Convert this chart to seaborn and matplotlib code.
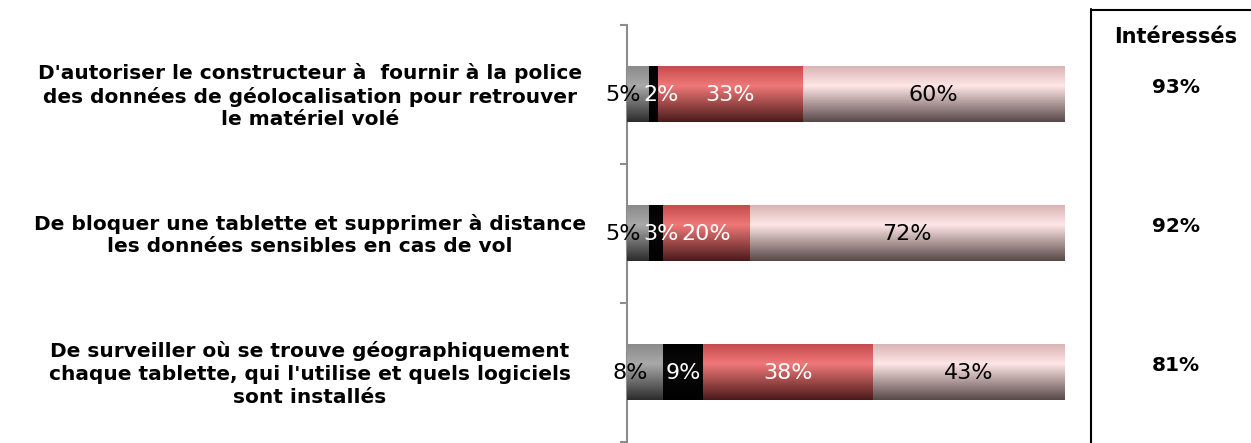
import numpy as np
import pandas as pd
import matplotlib
matplotlib.use("Agg")
import matplotlib.pyplot as plt
import matplotlib.transforms as mtransforms
from matplotlib.colors import LinearSegmentedColormap
import seaborn as sns

# -------- DATA --------
categories = [
    "D'autoriser le constructeur à  fournir à la police\ndes données de géolocalisation pour retrouver\nle matériel volé",
    "De bloquer une tablette et supprimer à distance\nles données sensibles en cas de vol",
    "De surveiller où se trouve géographiquement\nchaque tablette, qui l'utilise et quels logiciels\nsont installés",
]
seg_gray = [5, 5, 8]
seg_black = [2, 3, 9]
seg_red = [33, 20, 38]
seg_pink = [60, 72, 43]
interesses = ["93%", "92%", "81%"]

# -------- STYLE --------
# gradient stops per segment: top, light band, bottom
gradients = {
    "gray": ["#8a8a8a", "#a9a9a9", "#2c2c2c"],
    "black": ["#000000", "#0a0a0a", "#000000"],
    "red": ["#c44c4c", "#f07878", "#4a1a1a"],
    "pink": ["#dab4b4", "#ffe6e6", "#584848"],
}
label_colors = {"gray": "black", "black": "white", "red": "white", "pink": "black"}

sns.set_style("white")
plt.rcParams["font.family"] = ["DejaVu Sans"]
plt.rcParams["text.color"] = "black"

df = pd.DataFrame({"cat": categories, "gray": seg_gray, "black": seg_black,
                   "red": seg_red, "pink": seg_pink})
order = ["gray", "black", "red", "pink"]
tot = df[order].sum(axis=1)
# 100% stacked: normalize each row
norm = df[order].div(tot, axis=0) * 100
cum = norm.cumsum(axis=1)

fig = plt.figure(figsize=(12.51, 4.43), dpi=100)
ax = fig.add_axes([627 / 1251, 1 / 443, 438 / 1251, 417 / 443])

# draw stacked bars from the longest to the shortest
layer_patches = {}
for z, key in enumerate(reversed(order)):
    sns.barplot(x=cum[key].values, y=df["cat"], orient="h", width=0.4,
                color="white", ax=ax, zorder=z + 1)
    layer_patches[key] = list(ax.containers[-1])

for z, key in enumerate(reversed(order)):
    cmap = LinearSegmentedColormap.from_list(key, list(zip([0, 0.35, 1.0], gradients[key])))
    grad = np.linspace(0, 1, 128).reshape(-1, 1)
    for p in layer_patches[key]:
        p.set_facecolor("none")
        p.set_edgecolor("none")
        x0, y0, w, h = p.get_x(), p.get_y(), p.get_width(), p.get_height()
        ax.imshow(grad, cmap=cmap, aspect="auto", origin="upper",
                  extent=(x0, x0 + w, y0 + h, y0), zorder=z + 1,
                  interpolation="bilinear")

ax.set_xlim(0, 100)
ax.set_ylim(2.5, -0.5)

# value labels
for i in range(len(df)):
    start = 0
    for key in order:
        w = norm.loc[i, key]
        xc = start + w / 2
        if key == "gray":
            xc = xc - 3.4
        elif key == "black":
            xc = max(xc, start + 2.7)
        ax.text(xc, i, f"{df.loc[i, key]}%", ha="center", va="center",
                fontsize=16, color=label_colors[key], zorder=10)
        start += w

# axes styling
ax.set_xticks([])
ax.set_yticks([-0.5, 0.5, 1.5, 2.5])
ax.set_yticklabels([])
ax.set_ylabel("")
ax.set_xlabel("")
for s in ["top", "right", "bottom"]:
    ax.spines[s].set_visible(False)
ax.spines["left"].set_color("#8c8c8c")
ax.spines["left"].set_linewidth(1.5)
ax.tick_params(axis="y", direction="out", length=5, width=1.5, color="#8c8c8c", left=True)

# category labels
trans = mtransforms.blended_transform_factory(fig.transFigure, ax.transData)
for i, cat in enumerate(categories):
    ax.text(310 / 1251, i + 0.01, cat, transform=trans, ha="center", va="center",
            fontsize=14.5, fontweight="bold", linespacing=1.25, clip_on=False,
            color="black")

# right panel
fig.add_artist(plt.Line2D([1091 / 1251, 1091 / 1251], [0, 1 - 9 / 443],
                          transform=fig.transFigure, color="black", lw=1.5))
fig.add_artist(plt.Line2D([1091 / 1251, 1.0], [1 - 10 / 443, 1 - 10 / 443],
                          transform=fig.transFigure, color="black", lw=1.5))
fig.text(1176 / 1251, 1 - 37 / 443, "Intéressés", ha="center", va="center",
         fontsize=15, fontweight="bold", color="black")
for i, v in enumerate(interesses):
    ax.text(1176 / 1251, i - 0.05, v, transform=trans, ha="center", va="center",
            fontsize=14.5, fontweight="bold", clip_on=False, color="black")

fig.savefig("out.png", dpi=100)
